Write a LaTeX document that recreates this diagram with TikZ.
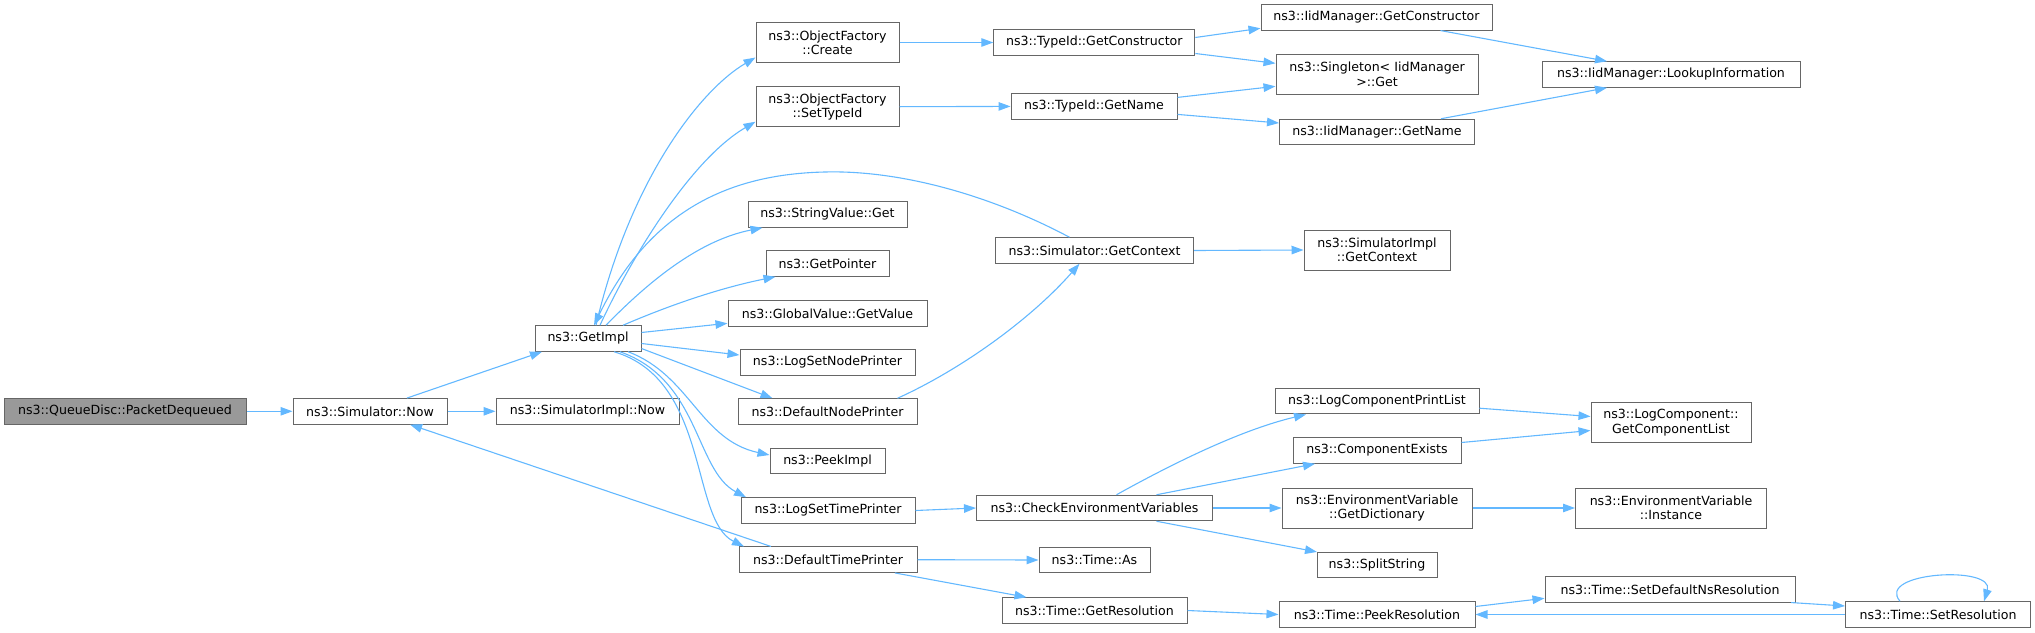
\documentclass[tikz,border=0pt]{standalone}
\usepackage{fontspec}
\setmainfont{DejaVu Sans}
\usetikzlibrary{arrows.meta}
\definecolor{nodeborder}{HTML}{666666}
\definecolor{nodefill}{HTML}{999999}
\definecolor{edgecol}{HTML}{63B8FF}
\tikzset{
  box/.style={draw=nodeborder, line width=1pt, fill=white, inner sep=0pt, align=center,
    font=\fontsize{12.6pt}{14.3pt}\selectfont, minimum height=25.5pt},
  tall/.style={minimum height=40pt},
  focus/.style={fill=nodefill},
  e/.style={draw=edgecol, line width=1.1pt, -{Triangle[length=12pt,width=8.5pt]}},
}
\begin{document}
\begin{tikzpicture}[x=1pt,y=-1pt]
\useasboundingbox (0,0) rectangle (2035,632);
% column 0/1
\node[box,focus,minimum width=242pt] (pd) at (125,411.3) {ns3::QueueDisc::PacketDequeued};
\node[box,minimum width=154pt] (sn) at (370,411.3) {ns3::Simulator::Now};
\node[box,minimum width=183pt] (sin) at (587.5,411.3) {ns3::SimulatorImpl::Now};
\node[box,minimum width=106pt] (gi) at (588,338.5) {ns3::GetImpl};
% column 2
\node[box,tall,minimum width=143pt] (ofc) at (827.5,42.5) {ns3::ObjectFactory\\::Create};
\node[box,tall,minimum width=143pt] (ofs) at (827.5,106.7) {ns3::ObjectFactory\\::SetTypeId};
\node[box,minimum width=159pt] (svg) at (827.5,214.5) {ns3::StringValue::Get};
\node[box,minimum width=123pt] (gp) at (827.5,263.5) {ns3::GetPointer};
\node[box,minimum width=199pt] (gv) at (827.5,313.3) {ns3::GlobalValue::GetValue};
\node[box,minimum width=175pt] (lsnp) at (827.5,362.5) {ns3::LogSetNodePrinter};
\node[box,minimum width=179pt] (dnp) at (827.5,411.5) {ns3::DefaultNodePrinter};
\node[box,minimum width=115pt] (pi) at (827.5,461) {ns3::PeekImpl};
\node[box,minimum width=174pt] (lstp) at (828,510.5) {ns3::LogSetTimePrinter};
\node[box,minimum width=178pt] (dtp) at (828,559.7) {ns3::DefaultTimePrinter};
% column 3
\node[box,minimum width=201pt] (tgc) at (1094.3,42.5) {ns3::TypeId::GetConstructor};
\node[box,minimum width=166pt] (tgn) at (1094,106.4) {ns3::TypeId::GetName};
\node[box,minimum width=198pt] (sgc) at (1094.5,250.5) {ns3::Simulator::GetContext};
\node[box,minimum width=236pt] (cev) at (1094.5,508) {ns3::CheckEnvironmentVariables};
\node[box,minimum width=111pt] (tas) at (1094.5,560) {ns3::Time::As};
\node[box,minimum width=185pt] (tgr) at (1094.5,610.5) {ns3::Time::GetResolution};
% column 4
\node[box,minimum width=231pt] (igc) at (1376.5,17.3) {ns3::IidManager::GetConstructor};
\node[box,tall,minimum width=202pt] (sing) at (1377,74.3) {ns3::Singleton< IidManager\\ >::Get};
\node[box,minimum width=195pt] (ign) at (1377,132) {ns3::IidManager::GetName};
\node[box,tall,minimum width=146pt] (sigc) at (1377,250) {ns3::SimulatorImpl\\::GetContext};
\node[box,minimum width=204pt] (lcpl) at (1377,401.2) {ns3::LogComponentPrintList};
\node[box,minimum width=168pt] (ce) at (1377,450.5) {ns3::ComponentExists};
\node[box,tall,minimum width=190pt] (evgd) at (1377,508) {ns3::EnvironmentVariable\\::GetDictionary};
\node[box,minimum width=120pt] (ss) at (1377,565.2) {ns3::SplitString};
\node[box,minimum width=196pt] (tpr) at (1377,614.5) {ns3::Time::PeekResolution};
% column 5
\node[box,minimum width=258pt] (lookup) at (1671,74.5) {ns3::IidManager::LookupInformation};
\node[box,tall,minimum width=160pt] (lcgcl) at (1671,422.5) {ns3::LogComponent::\\GetComponentList};
\node[box,tall,minimum width=191pt] (evi) at (1671,508) {ns3::EnvironmentVariable\\::Instance};
\node[box,minimum width=250pt] (tsdnr) at (1670,589.3) {ns3::Time::SetDefaultNsResolution};
% column 6
\node[box,minimum width=185pt] (tsr) at (1938,614.5) {ns3::Time::SetResolution};

% edges
\draw[e] (pd.east) -- (sn.west);
\draw[e] ([xshift=37pt]sn.north) -- ([xshift=-46pt]gi.south);
\draw[e] (sn.east) -- (sin.west);
\draw[e] ([xshift=8pt]gi.north) .. controls (630,180) and (700,90) .. ([yshift=-15pt]ofc.west);
\draw[e] ([xshift=12pt]gi.north) .. controls (630,260) and (690,160) .. ([yshift=-15pt]ofs.west);
\draw[e] ([xshift=18pt]gi.north) .. controls (650,280) and (700,240) .. ([xshift=-65pt]svg.south);
\draw[e] ([xshift=35pt]gi.north) .. controls (670,305) and (720,288) .. ([xshift=-52pt]gp.south);
\draw[e] ([yshift=6pt]gi.east) -- ([yshift=-10pt]gv.west);
\draw[e] ([yshift=-5pt]gi.east) -- ([yshift=7.5pt]lsnp.west);
\draw[e] ([yshift=-10pt]gi.east) -- ([xshift=-55pt]dnp.north);
\draw[e] ([xshift=40pt]gi.south) .. controls (690,375) and (700,440) .. ([yshift=6pt]pi.west);
\draw[e] ([xshift=32pt]gi.south) .. controls (700,380) and (695,470) .. ([xshift=-82pt]lstp.north);
\draw[e] ([xshift=26pt]gi.south) .. controls (710,380) and (690,520) .. ([xshift=-84pt]dtp.north);
\draw[e] ([xshift=-25pt]sgc.north) .. controls (990,195) and (900,170) .. (825,172)
   .. controls (730,174) and (650,210) .. ([xshift=6pt]gi.north);
\draw[e] ([xshift=70pt]dnp.north) .. controls (960,370) and (1030,320) .. ([xshift=-15pt]sgc.south);
\draw[e] ([xshift=-57pt]dtp.north) -- ([xshift=40pt]sn.south);
\draw[e] (ofc.east) -- (tgc.west);
\draw[e] (ofs.east) -- (tgn.west);
\draw[e] ([yshift=5pt]tgc.east) -- ([yshift=-11pt]igc.west);
\draw[e] ([yshift=-11pt]tgc.east) -- ([yshift=11pt]sing.west);
\draw[e] ([yshift=9pt]tgn.east) -- ([yshift=-12pt]sing.west);
\draw[e] ([yshift=-8pt]tgn.east) -- ([yshift=9pt]ign.west);
\draw[e] ([xshift=64pt]igc.south) -- ([xshift=-64pt]lookup.north);
\draw[e] ([xshift=64pt]ign.north) -- ([xshift=-64pt]lookup.south);
\draw[e] (sgc.east) -- (sigc.west);
\draw[e] (lstp.east) -- (cev.west);
\draw[e] ([xshift=22pt]cev.north) .. controls (1170,465) and (1240,430) .. ([xshift=-71pt]lcpl.south);
\draw[e] ([xshift=62pt]cev.north) -- ([xshift=-62pt]ce.south);
\draw[e] (cev.east) -- (evgd.west);
\draw[e] ([xshift=62pt]cev.south) -- ([xshift=-60pt]ss.north);
\draw[e] ([yshift=-7pt]lcpl.east) -- ([yshift=6pt]lcgcl.west);
\draw[e] ([yshift=8pt]ce.east) -- ([yshift=-8pt]lcgcl.west);
\draw[e] (evgd.east) -- (evi.west);
\draw[e] (dtp.east) -- (tas.west);
\draw[e] ([xshift=67pt]dtp.south) -- ([xshift=-68pt]tgr.north);
\draw[e] (tgr.east) -- (tpr.west);
\draw[e] ([yshift=8pt]tpr.east) -- ([yshift=-9pt]tsdnr.west);
\draw[e] ([xshift=121pt]tsdnr.south) -- ([yshift=8.5pt]tsr.west);
\draw[e] (tsr.west) -- (tpr.east);
\draw[e] ([xshift=-38pt]tsr.north) .. controls (1875,572) and (1995,565) .. ([xshift=46pt]tsr.north);
\end{tikzpicture}
\end{document}
